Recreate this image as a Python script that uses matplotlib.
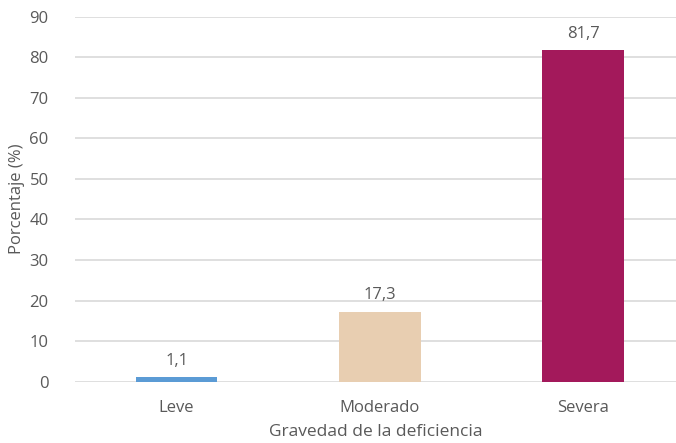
import matplotlib.pyplot as plt

categories = ["Leve", "Moderado", "Severa"]
values = [1.1, 17.3, 81.7]
colors = ["#5B9BD5", "#E8CEB1", "#A3195B"]
yticks = [0, 10, 20, 30, 40, 50, 60, 70, 80, 90]

plt.rcParams['font.family'] = ['Open Sans', 'DejaVu Sans']
text_color = "#595959"

fig = plt.figure(figsize=(6.76, 4.43), dpi=100)
ax = fig.add_axes([75 / 676, 1 - 381.7 / 443, 601 / 676, 365 / 443])

x = range(len(categories))
bars = ax.bar(x, values, width=0.4, color=colors, zorder=3)

for xi, v in zip(x, values):
    ax.annotate(f"{v:.1f}".replace(".", ","), (xi, v), xytext=(0, 6),
                textcoords="offset points", ha="center", va="bottom",
                fontsize=12, color=text_color)

ax.set_ylim(0, 90)
ax.set_xlim(-0.5, 2.457)
ax.set_yticks(yticks)
ax.set_xticks(list(x))
ax.set_xticklabels(categories)
ax.yaxis.grid(True, color="#D9D9D9", linewidth=1.2, zorder=0)
ax.tick_params(axis="both", length=0, labelsize=12, colors=text_color)
ax.tick_params(axis="y", pad=19)
ax.tick_params(axis="x", pad=13)
for s in ax.spines.values():
    s.set_visible(False)

ax.set_ylabel("Porcentaje (%)", fontsize=12, color=text_color, labelpad=3)
ax.set_xlabel("Gravedad de la deficiencia", fontsize=12.5, color=text_color, labelpad=6)

fig.savefig("out.png", dpi=100)
